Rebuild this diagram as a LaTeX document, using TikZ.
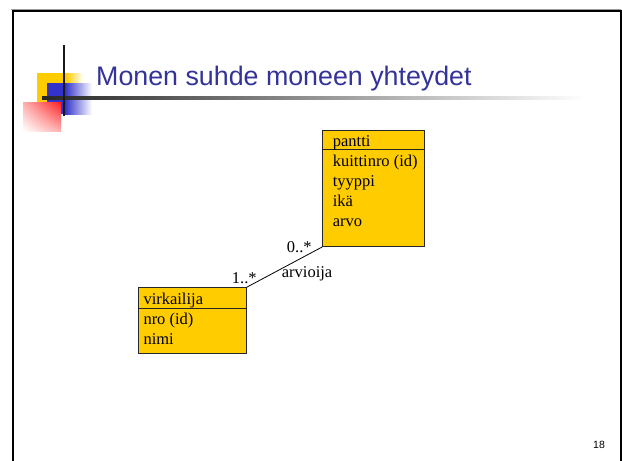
\documentclass[tikz,border=0pt]{standalone}
\usepackage{fontspec}
\usetikzlibrary{shadings}
\setmainfont{Liberation Serif}
\newfontfamily\arialf{Liberation Sans}
\definecolor{titleblue}{RGB}{51,51,153}
\definecolor{boxfill}{RGB}{255,204,0}
\definecolor{logoblue}{RGB}{51,51,204}
\definecolor{logored}{RGB}{255,30,30}
\begin{document}
\begin{tikzpicture}[x=1pt,y=-1pt,
 umlbox/.style={draw=black!85, fill=boxfill, line width=0.9pt, inner sep=0pt, anchor=north west},
 attr/.style={anchor=base west, inner sep=0pt, font=\fontsize{16.5}{20}\selectfont},
 divider/.style={draw=black!85, line width=0.9pt},
 assoc/.style={draw=black, line width=0.8pt}]
\useasboundingbox (0,0) rectangle (622,461);
\fill[white] (0,0) rectangle (622,461);
% frame
\draw[black!40, line width=1pt] (11,9.2) -- (621,9.2);
\draw[black, line width=2pt] (13,461) -- (13,10.8) -- (621,10.8) -- (621,461);
% logo
\fill[boxfill] (37,73) rectangle (66,103);
\shade[left color=boxfill, right color=white] (66,73) rectangle (83,103);
\fill[logoblue] (47,83) rectangle (65,114);
\shade[left color=logoblue, right color=white] (65,83) rectangle (92,114);
\shade[upper right=logored, lower left=white, upper left=logored!35!white, lower right=logored!35!white] (23,102) rectangle (61,131);
\shade[left color=black!85, middle color=black!38, right color=white] (42,96.8) rectangle (585,99.8);
\draw[black!90, line width=2pt] (64,45) -- (64,116);
% title
\node[anchor=base west, inner sep=0pt, text=titleblue, font=\arialf\fontsize{26.8}{30}\selectfont] (title) at (96,85) {Monen suhde moneen yhteydet};
\node[anchor=base, inner sep=0pt, font=\arialf\fontsize{10.5}{12}\selectfont] (pnum) at (599,448.7) {18};
% pantti
\node[umlbox, minimum width=101.7pt, minimum height=116pt] (pantti) at (322.3,130) {};
\draw[divider] ([yshift=-19.3pt]pantti.north west) -- ([yshift=-19.3pt]pantti.north east);
\node[attr] (p0) at (332.7,146) {pantti};
\node[attr] (p1) at (332.7,166.8) {kuittinro (id)};
\node[attr] (p2) at (332.7,186.6) {tyyppi};
\node[attr] (p3) at (332.7,206.6) {ikä};
\node[attr] (p4) at (332.7,226.4) {arvo};
% virkailija
\node[umlbox, minimum width=107.4pt, minimum height=66pt] (virk) at (138.3,287.3) {};
\draw[divider] ([yshift=-21pt]virk.north west) -- ([yshift=-21pt]virk.north east);
\node[attr] (v0) at (143.3,304) {virkailija};
\node[attr] (v1) at (143.3,324.3) {nro (id)};
\node[attr] (v2) at (143.3,344) {nimi};
% association
\draw[assoc] (virk.north east) -- (pantti.south west);
\node[attr] (m1) at (286.7,252.7) {0..*};
\node[attr] (m2) at (231.7,283.3) {1..*};
\node[attr] (rn) at (281.7,277.7) {arvioija};
\end{tikzpicture}
\end{document}
